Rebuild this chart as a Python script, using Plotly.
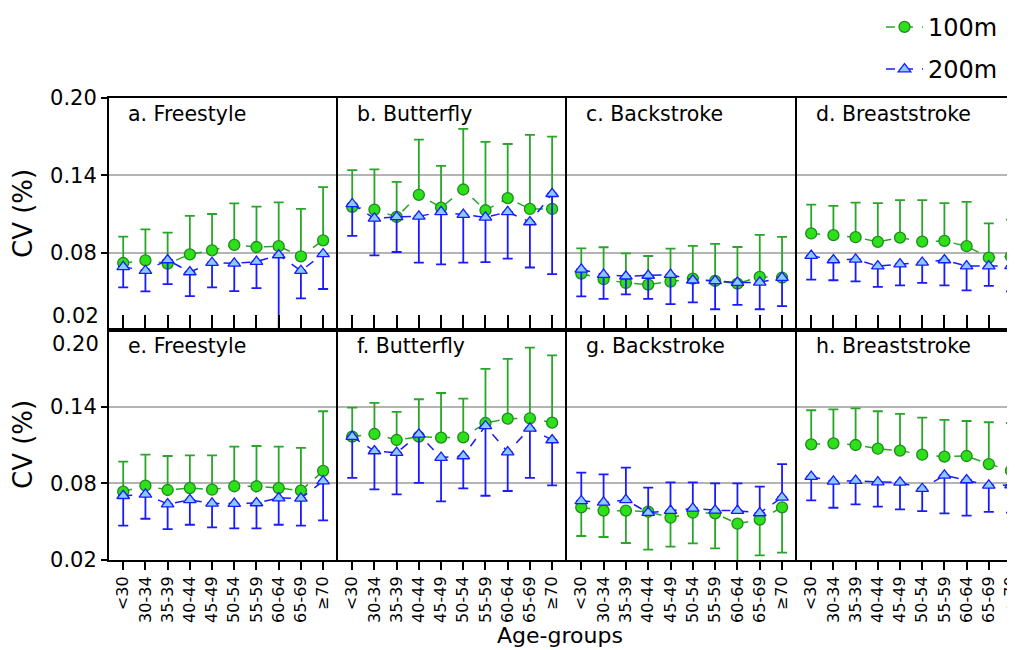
import plotly.graph_objects as go

ages = ["<30", "30-34", "35-39", "40-44", "45-49", "50-54", "55-59", "60-64", "65-69", "≥70"]
titles = ["a. Freestyle", "b. Butterfly", "c. Backstroke", "d. Breaststroke",
          "e. Freestyle", "f. Butterfly", "g. Backstroke", "h. Breaststroke"]
series_names = ["100m", "200m"]

# mean CV and the end value of the drawn error bar
a_100 = [0.072, 0.074, 0.0715, 0.0787, 0.0818, 0.086, 0.0844, 0.085, 0.0772, 0.0896]
a_100_end = [0.0924, 0.098, 0.0955, 0.1085, 0.110, 0.1183, 0.1157, 0.119, 0.114, 0.1308]
a_200 = [0.069, 0.066, 0.0743, 0.065, 0.0722, 0.0717, 0.073, 0.0782, 0.066, 0.079]
a_200_end = [0.053, 0.050, 0.0556, 0.0463, 0.053, 0.0502, 0.0525, 0.0, 0.0445, 0.0518]

b_100 = [0.1155, 0.1134, 0.1077, 0.1249, 0.115, 0.129, 0.1129, 0.1223, 0.1139, 0.1139]
b_100_end = [0.144, 0.1447, 0.135, 0.1677, 0.1473, 0.176, 0.166, 0.1643, 0.1714, 0.170]
b_200 = [0.1178, 0.1066, 0.1077, 0.1082, 0.1116, 0.1095, 0.1074, 0.1116, 0.1038, 0.1257]
b_200_end = [0.093, 0.0779, 0.0805, 0.0722, 0.0709, 0.0722, 0.0727, 0.0753, 0.0685, 0.0633]

c_100 = [0.0638, 0.0594, 0.0565, 0.0552, 0.0576, 0.0599, 0.0581, 0.056, 0.0612, 0.0607]
c_100_end = [0.0834, 0.0842, 0.0795, 0.0774, 0.0831, 0.0852, 0.0868, 0.0844, 0.0938, 0.0923]
c_200 = [0.067, 0.063, 0.0617, 0.0623, 0.063, 0.0586, 0.0581, 0.0568, 0.057, 0.0607]
c_200_end = [0.0461, 0.0442, 0.0476, 0.0442, 0.040, 0.0414, 0.0361, 0.0395, 0.0361, 0.0385]

d_100 = [0.0949, 0.0936, 0.092, 0.0884, 0.0917, 0.0886, 0.0891, 0.085, 0.0761, 0.0771]
d_100_end = [0.1173, 0.1163, 0.1189, 0.1184, 0.1207, 0.1207, 0.1184, 0.1194, 0.1027, 0.1056]
d_200 = [0.0777, 0.0743, 0.0748, 0.0696, 0.0711, 0.0724, 0.0743, 0.0696, 0.0696, 0.0698]
d_200_end = [0.0591, 0.0586, 0.0578, 0.0534, 0.0547, 0.0565, 0.0547, 0.0508, 0.0542, 0.050]

e_100 = [0.0735, 0.0782, 0.0748, 0.0763, 0.075, 0.0777, 0.0777, 0.0763, 0.0743, 0.0897]
e_100_end = [0.097, 0.1024, 0.1014, 0.1019, 0.1019, 0.1087, 0.1092, 0.1087, 0.1077, 0.1364]
e_200 = [0.0703, 0.0714, 0.0638, 0.067, 0.0643, 0.0641, 0.0646, 0.0685, 0.0683, 0.0818]
e_200_end = [0.0469, 0.0523, 0.0442, 0.0476, 0.0455, 0.0448, 0.0448, 0.0476, 0.0469, 0.051]

f_100 = [0.1165, 0.1186, 0.1139, 0.1165, 0.1158, 0.116, 0.1272, 0.1306, 0.1309, 0.1275]
f_100_end = [0.1393, 0.1429, 0.1359, 0.1458, 0.1507, 0.1463, 0.1695, 0.1774, 0.1862, 0.1802]
f_200 = [0.1165, 0.1053, 0.104, 0.1183, 0.1001, 0.1014, 0.1249, 0.1045, 0.123, 0.1139]
f_200_end = [0.0842, 0.0753, 0.0714, 0.0803, 0.0659, 0.0761, 0.0703, 0.074, 0.0842, 0.0784]

g_100 = [0.0612, 0.0586, 0.0586, 0.0578, 0.0531, 0.057, 0.0565, 0.0484, 0.0516, 0.0612]
g_100_end = [0.0388, 0.038, 0.0333, 0.0281, 0.0304, 0.033, 0.0291, 0.0, 0.0236, 0.0257]
g_200 = [0.0662, 0.0651, 0.067, 0.057, 0.0586, 0.0604, 0.0589, 0.0586, 0.0568, 0.069]
g_200_end = [0.0884, 0.087, 0.0923, 0.0766, 0.0808, 0.0808, 0.08, 0.08, 0.0774, 0.0951]

h_100 = [0.1105, 0.1113, 0.11, 0.1071, 0.1056, 0.1024, 0.1009, 0.1014, 0.0951, 0.0899]
h_100_end = [0.1372, 0.1379, 0.1387, 0.1364, 0.1343, 0.1314, 0.1296, 0.1288, 0.1278, 0.1272]
h_200 = [0.0852, 0.0816, 0.0821, 0.081, 0.0808, 0.0758, 0.0863, 0.0826, 0.0784, 0.0787]
h_200_end = [0.0667, 0.0609, 0.0636, 0.0617, 0.0596, 0.0583, 0.0565, 0.0547, 0.0576, 0.057]

y_ticks = [0.02, 0.08, 0.14, 0.20]
y_ticktext = ["0.02", "0.08", "0.14", "0.20"]

panels = [
    (a_100, a_100_end, a_200, a_200_end),
    (b_100, b_100_end, b_200, b_200_end),
    (c_100, c_100_end, c_200, c_200_end),
    (d_100, d_100_end, d_200, d_200_end),
    (e_100, e_100_end, e_200, e_200_end),
    (f_100, f_100_end, f_200, f_200_end),
    (g_100, g_100_end, g_200, g_200_end),
    (h_100, h_100_end, h_200, h_200_end),
]

# page has an 8px body margin; figure sized to fill the rest of the window
OFF = 8
W, H = 1015 - OFF, 650 - OFF
FONT = "DejaVu Sans"
GREEN_LINE = "#2aa52a"
GREEN_FILL = "#2ee01a"
GREEN_EDGE = "#1c8c1c"
BLUE_LINE = "#1a1aff"
BLUE_FILL = "#88ccff"


def px(x):
    return (x - OFF) / W


def py(y):
    return 1 - (y - OFF) / H


xdoms = [[px(109), px(338)], [px(338), px(567)], [px(567), px(797)], [px(797), 1.0]]
xranges = [[-0.64, 9.67], [-0.64, 9.67], [-0.64, 9.67], [-0.64, 9.18]]
ydoms = [[py(330), py(98)], [py(560), py(330)]]

fig = go.Figure()
x_idx = list(range(len(ages)))


def errs(mean, end):
    plus = [max(e - m, 0) for m, e in zip(mean, end)]
    minus = [max(m - e, 0) for m, e in zip(mean, end)]
    return plus, minus


for i, (m1, e1, m2, e2) in enumerate(panels):
    n = i + 1
    xa = "x" if n == 1 else f"x{n}"
    ya = "y" if n == 1 else f"y{n}"
    specs = [
        (m1, e1, series_names[0], GREEN_LINE, GREEN_FILL, GREEN_EDGE, "circle"),
        (m2, e2, series_names[1], BLUE_LINE, BLUE_FILL, BLUE_LINE, "triangle-up"),
    ]
    for k, (m, e, name, lc, fc, ec, sym) in enumerate(specs):
        plus, minus = errs(m, e)
        fig.add_trace(go.Scatter(
            x=x_idx, y=m, xaxis=xa, yaxis=ya, name=name,
            mode="lines+markers", legendgroup=name, showlegend=(n == 1),
            line=dict(color=lc, width=1.5, dash="dash"),
            marker=dict(symbol=sym, size=11, color=fc, line=dict(color=ec, width=1.3)),
            error_y=dict(type="data", symmetric=False, array=plus, arrayminus=minus,
                         color=lc, thickness=1.8, width=5),
        ))

layout = dict(
    width=W, height=H, paper_bgcolor="white", plot_bgcolor="white",
    margin=dict(l=0, r=0, t=0, b=0, autoexpand=False),
    font=dict(family=FONT, color="black"),
    legend=dict(x=px(881), y=1.005, xanchor="left", yanchor="top", font=dict(size=24, family=FONT),
                tracegroupgap=8, itemwidth=37, bgcolor="rgba(0,0,0,0)"),
)

annotations = []
for i in range(8):
    n = i + 1
    row, col = divmod(i, 4)
    xk = "xaxis" if n == 1 else f"xaxis{n}"
    yk = "yaxis" if n == 1 else f"yaxis{n}"
    ya = "y" if n == 1 else f"y{n}"
    xd = dict(domain=xdoms[col], range=xranges[col], anchor=ya,
              tickmode="array", tickvals=x_idx, ticktext=ages,
              showline=True, linewidth=2, linecolor="black", mirror=True,
              showgrid=False, zeroline=False, tickcolor="black", tickwidth=1.5,
              ticklabeloverflow="allow")
    if row == 0:
        xd.update(ticks="inside", ticklen=15, showticklabels=False)
    else:
        xd.update(ticks="outside", ticklen=8, showticklabels=True, tickangle=-90,
                  tickfont=dict(size=16, family=FONT, color="black"))
    layout[xk] = xd

    yd = dict(domain=ydoms[row], range=[0.02, 0.20], anchor="x" if n == 1 else f"x{n}",
              showline=True, linewidth=2, linecolor="black", mirror=False,
              showgrid=True, gridcolor="#b4b4b4", gridwidth=1.5, zeroline=False,
              tickmode="array")
    if col == 0:
        if row == 0:
            tv = [v for v in y_ticks if v != 0.02]
        else:
            tv = [v for v in y_ticks if v != 0.20]
        yd.update(tickvals=tv, ticktext=[y_ticktext[y_ticks.index(v)] for v in tv],
                  ticks="outside", ticklen=6, tickwidth=1.5, tickcolor="black",
                  showticklabels=True, tickfont=dict(size=21, family=FONT, color="black"))
    else:
        yd.update(tickvals=[0.08, 0.14], ticks="", showticklabels=False)
    layout[yk] = yd

    annotations.append(dict(
        text=titles[i], xref="paper", yref="paper",
        x=xdoms[col][0] + 17 / W, y=ydoms[row][1] - 16 / H,
        xanchor="left", yanchor="middle", showarrow=False,
        font=dict(size=20.5, family=FONT, color="black")))

# boundary tick labels shared between rows
annotations.append(dict(text=y_ticktext[0], xref="paper", yref="y", x=px(109), y=y_ticks[0],
                        xanchor="right", yanchor="bottom", xshift=-8, showarrow=False,
                        font=dict(size=21, family=FONT, color="black")))
annotations.append(dict(text=y_ticktext[3], xref="paper", yref="y5", x=px(109), y=y_ticks[3],
                        xanchor="right", yanchor="top", xshift=-8, showarrow=False,
                        font=dict(size=21, family=FONT, color="black")))

for row in range(2):
    annotations.append(dict(text="CV (%)", xref="paper", yref="paper",
                            x=px(23), y=(ydoms[row][0] + ydoms[row][1]) / 2,
                            xanchor="center", yanchor="middle", textangle=-90, showarrow=False,
                            font=dict(size=26, family=FONT, color="black")))

annotations.append(dict(text="Age-groups", xref="paper", yref="paper", x=px(560), y=py(635),
                        xanchor="center", yanchor="middle", showarrow=False,
                        font=dict(size=22, family=FONT, color="black")))

layout["annotations"] = annotations
fig.update_layout(**layout)
fig.write_html("out.html")
